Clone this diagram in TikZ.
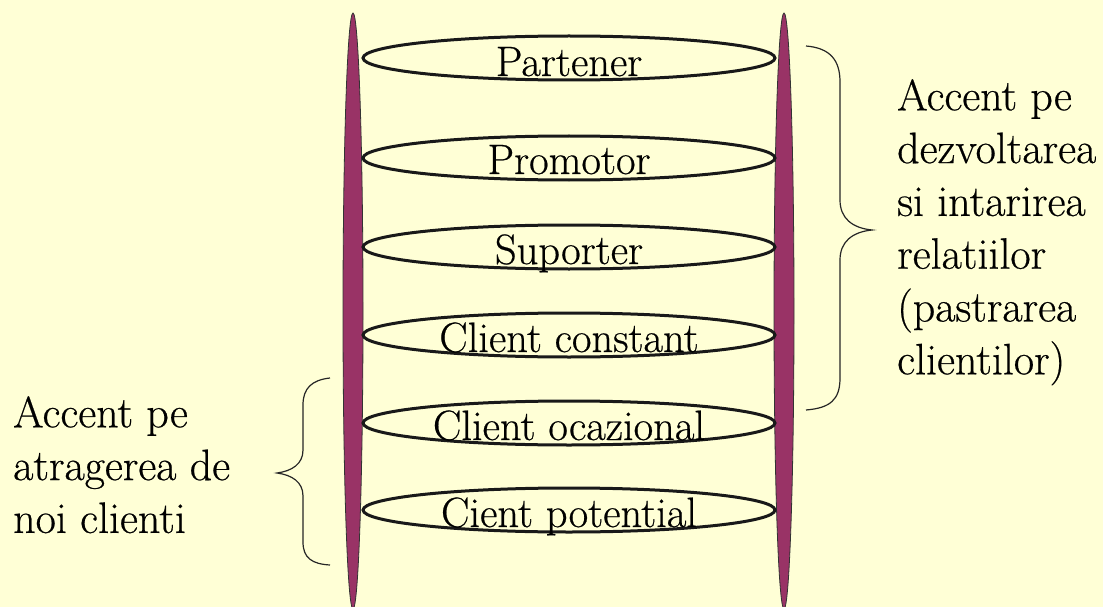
\documentclass[tikz,border=0pt]{standalone}
\usepackage{fontspec}
\newfontfamily\tnrfont{Latin Modern Roman}[FakeBold=0.5]
\definecolor{bg}{HTML}{FFFFD6}
\definecolor{rail}{HTML}{993366}
\begin{document}
\begin{tikzpicture}[x=1pt,y=-1pt,
  railstyle/.style={fill=rail,draw=black!80,line width=0.8pt},
  ring/.style={draw=black!90,line width=3pt},
  ringtext/.style={anchor=base,inner sep=0pt,font=\tnrfont\fontsize{42.5}{52.8}\selectfont},
  sidetext/.style={anchor=north west,inner sep=0pt,align=left,font=\tnrfont\fontsize{44}{52.8}\selectfont},
  bracestyle/.style={draw=black!85,line width=1.2pt}]
\fill[bg] (0,0) rectangle (1103,607);
\useasboundingbox (0,0) rectangle (1103,607);
% rails
\path[railstyle] (353,311) ellipse [x radius=10, y radius=298];
\path[railstyle] (784,311) ellipse [x radius=10, y radius=298];
% rings
\foreach \n/\y in {r1/58,r2/158,r3/247,r4/335,r5/423,r6/510}{
  \draw[ring] (569,\y) ellipse [x radius=206, y radius=22];
}
\node[ringtext] (t1) at (569,76) {Partener};
\node[ringtext] (t2) at (569,174) {Promotor};
\node[ringtext] (t3) at (569,264) {Suporter};
\node[ringtext] (t4) at (569,352) {Client constant};
\node[ringtext] (t5) at (569,440) {Client ocazional};
\node[ringtext] (t6) at (569,527) {Cient potential};
% right brace
\draw[bracestyle] (806,46) .. controls (830,48) and (840,60) .. (840,82)
  -- (840,200) .. controls (840,218) and (852,228) .. (872,230)
  .. controls (852,232) and (840,242) .. (840,260)
  -- (840,378) .. controls (840,400) and (830,408) .. (806,410);
\node[sidetext] (rt) at (897,79) {Accent pe\\dezvoltarea\\si intarirea\\relatiilor\\(pastrarea\\clientilor)};
% left brace
\draw[bracestyle] (330,378) .. controls (312,380) and (303,388) .. (303,405)
  -- (303,450) .. controls (303,464) and (292,471) .. (277,473)
  .. controls (292,475) and (303,482) .. (303,496)
  -- (303,542) .. controls (303,558) and (312,564) .. (330,565);
\node[sidetext] (lt) at (13,396) {\setlength{\baselineskip}{56.5pt}Accent pe\\atragerea de\\noi clienti};
\end{tikzpicture}
\end{document}
